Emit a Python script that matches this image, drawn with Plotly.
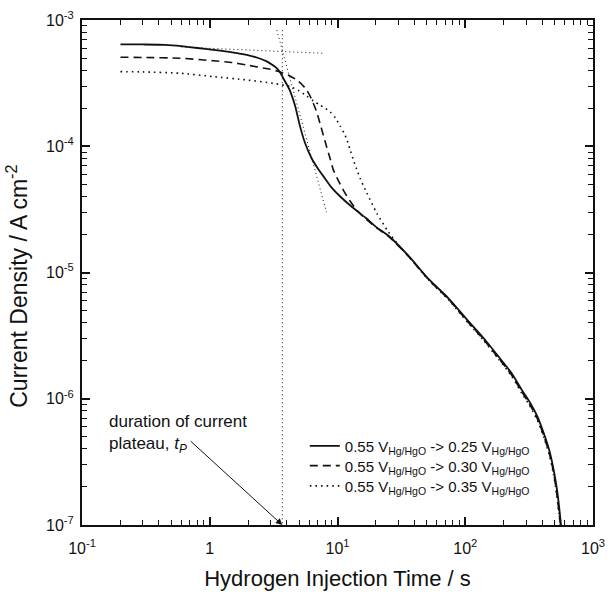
import math
import plotly.graph_objects as go

# ---------------- data ----------------
t_025 = [0.2, 0.3, 0.45, 0.6, 0.8, 1.07, 1.5, 1.95, 2.4, 2.79, 3.1, 3.34, 3.55, 3.77, 4.0,
         4.25, 4.65, 5.08, 5.57, 6.28, 7.0, 7.74, 9.0, 10.5, 13, 16.7, 20, 25.6, 36.3, 51.5,
         73.3, 104, 140, 182, 230, 278, 320, 368, 410, 455, 490, 523, 545, 562]
j_025 = [6.42e-4, 6.40e-4, 6.35e-4, 6.2e-4, 6.0e-4, 5.8e-4, 5.55e-4, 5.3e-4, 5.0e-4, 4.7e-4,
         4.4e-4, 4.15e-4, 3.85e-4, 3.45e-4, 3.1e-4, 2.75e-4, 2.1e-4, 1.45e-4, 1.06e-4, 8.0e-5,
         6.7e-5, 5.8e-5, 4.7e-5, 4.0e-5, 3.3e-5, 2.7e-5, 2.3e-5, 1.92e-5, 1.34e-5, 8.9e-6,
         6.3e-6, 4.2e-6, 3.0e-6, 2.16e-6, 1.6e-6, 1.17e-6, 9.4e-7, 7.2e-7, 5.4e-7, 3.9e-7,
         2.8e-7, 1.9e-7, 1.35e-7, 1.0e-7]

t_030 = [0.2, 0.3, 0.585, 1.07, 1.5, 1.95, 2.5, 2.97, 3.4, 3.77, 4.25, 4.79, 5.25, 5.73, 6.1,
         6.46, 6.9, 7.29, 7.75, 8.22, 8.75, 9.28, 10.2, 11.1, 12.5, 14.1, 16, 20, 25.6, 36.3,
         51.5, 73.3, 104, 140, 182, 230, 278, 320, 368, 410, 455, 490, 520, 540, 556]
j_030 = [5.07e-4, 5.05e-4, 4.98e-4, 4.75e-4, 4.6e-4, 4.4e-4, 4.2e-4, 4.07e-4, 3.93e-4, 3.79e-4,
         3.6e-4, 3.35e-4, 3.1e-4, 2.79e-4, 2.5e-4, 2.19e-4, 1.85e-4, 1.52e-4, 1.22e-4, 9.9e-5,
         8.0e-5, 6.5e-5, 5.3e-5, 4.5e-5, 3.7e-5, 3.13e-5, 2.75e-5, 2.28e-5, 1.9e-5, 1.33e-5,
         8.8e-6, 6.2e-6, 4.1e-6, 2.92e-6, 2.1e-6, 1.55e-6, 1.13e-6, 9.0e-7, 6.9e-7, 5.15e-7,
         3.7e-7, 2.65e-7, 1.8e-7, 1.3e-7, 1.0e-7]

t_035 = [0.2, 0.3, 0.585, 1.07, 1.95, 3.15, 4.25, 5.0, 5.73, 6.5, 7.29, 8.0, 8.73, 9.6, 10.5,
         11.2, 11.8, 12.5, 13.3, 14.1, 15, 16.9, 20.3, 25, 30.8, 36.3, 51.5, 73.3, 104, 140,
         182, 230, 278, 320, 368, 410, 455, 490, 520, 540, 555]
j_035 = [3.9e-4, 3.88e-4, 3.79e-4, 3.56e-4, 3.35e-4, 3.15e-4, 2.97e-4, 2.75e-4, 2.5e-4, 2.28e-4,
         2.12e-4, 2.0e-4, 1.88e-4, 1.68e-4, 1.45e-4, 1.28e-4, 1.14e-4, 9.5e-5, 7.8e-5, 6.6e-5,
         5.6e-5, 4.3e-5, 2.95e-5, 2.1e-5, 1.6e-5, 1.33e-5, 8.75e-6, 6.15e-6, 4.05e-6, 2.88e-6,
         2.06e-6, 1.52e-6, 1.1e-6, 8.8e-7, 6.7e-7, 5.0e-7, 3.6e-7, 2.55e-7, 1.75e-7, 1.27e-7,
         1.0e-7]

# construction lines used to find the plateau duration t_P
plateau_t = [0.6, 7.8]
plateau_j = [6.1e-4, 5.45e-4]
drop_t = [3.35, 8.2]
drop_j = [8.3e-4, 3.0e-5]
tp_value = 3.7
tp_j = [8.3e-4, 1e-7]
arrow_tail_t = 0.69
arrow_tail_j = 4.73e-7

series_names = [
    "0.55 V<sub>Hg/HgO</sub> -&gt; 0.25 V<sub>Hg/HgO</sub>",
    "0.55 V<sub>Hg/HgO</sub> -&gt; 0.30 V<sub>Hg/HgO</sub>",
    "0.55 V<sub>Hg/HgO</sub> -&gt; 0.35 V<sub>Hg/HgO</sub>",
]

x_tickvals = [0.1, 1, 10, 100, 1000]
x_ticktext = ["10<sup>-1</sup>", "1", "10<sup>1</sup>", "10<sup>2</sup>", "10<sup>3</sup>"]
y_tickvals = [1e-7, 1e-6, 1e-5, 1e-4, 1e-3]
y_ticktext = ["10<sup>-7</sup>", "10<sup>-6</sup>", "10<sup>-5</sup>", "10<sup>-4</sup>", "10<sup>-3</sup>"]

FONT = "Liberation Sans, Arial, Helvetica, sans-serif"
BLACK = "#111111"

fig = go.Figure()

# construction lines (not in legend)
for xs, ys in [(plateau_t, plateau_j), (drop_t, drop_j), ([tp_value, tp_value], tp_j)]:
    fig.add_trace(go.Scatter(x=xs, y=ys, mode="lines", showlegend=False, hoverinfo="skip",
                             line=dict(color=BLACK, width=1, dash="1px,3px")))

fig.add_trace(go.Scatter(x=t_025, y=j_025, mode="lines", name=series_names[0], legend="legend",
                         line=dict(color=BLACK, width=1.8, shape="spline", smoothing=0.6)))
fig.add_trace(go.Scatter(x=t_030, y=j_030, mode="lines", name=series_names[1], legend="legend2",
                         line=dict(color=BLACK, width=1.6, dash="8px,5px", shape="spline", smoothing=0.6)))
fig.add_trace(go.Scatter(x=t_035, y=j_035, mode="lines", name=series_names[2], legend="legend3",
                         line=dict(color=BLACK, width=1.6, dash="1.6px,4px", shape="spline", smoothing=0.6)))

fig.add_annotation(x=math.log10(tp_value), y=math.log10(tp_j[1]),
                   ax=math.log10(arrow_tail_t), ay=math.log10(arrow_tail_j),
                   xref="x", yref="y", axref="x", ayref="y", text="", showarrow=True,
                   arrowhead=2, arrowsize=1.3, arrowwidth=1, arrowcolor=BLACK)
fig.add_annotation(x=0.048, y=0.181, xref="paper", yref="paper", xanchor="left", yanchor="middle",
                   align="left", showarrow=False,
                   text="duration of current<br>plateau, <i>t<sub>P</sub></i>",
                   font=dict(family=FONT, size=17, color=BLACK))
# y-axis title (placed as rotated text to match the reference position)
fig.add_annotation(x=-0.127, y=0.472, xref="paper", yref="paper", xanchor="center", yanchor="middle",
                   textangle=-90, showarrow=False,
                   text="Current Density / A cm<sup>-2</sup>",
                   font=dict(family=FONT, size=23, color=BLACK))

axis_common = dict(
    type="log", showline=True, linewidth=2, linecolor=BLACK, mirror="ticks",
    ticks="inside", ticklen=8, tickwidth=1.5, tickcolor=BLACK, showgrid=False, zeroline=False,
    tickfont=dict(family=FONT, size=16, color=BLACK), automargin=False,
    minor=dict(ticks="inside", ticklen=5, tickwidth=1.2, tickcolor=BLACK, showgrid=False),
)

minor_x = [m * 10 ** e for e in range(-1, 3) for m in range(2, 10)]
minor_y = [m * 10 ** e for e in range(-7, -3) for m in range(2, 10)]

fig.update_xaxes(**axis_common, range=[-1, 3], tickmode="array", tickvals=x_tickvals,
                 ticktext=x_ticktext, ticklabelstandoff=8,
                 title=dict(text="Hydrogen Injection Time / s", standoff=14,
                            font=dict(family=FONT, size=22, color=BLACK)))
fig.update_xaxes(minor_tickmode="array", minor_tickvals=minor_x)
fig.update_yaxes(**axis_common, range=[-7, -3], tickmode="array", tickvals=y_tickvals,
                 ticktext=y_ticktext, ticklabelstandoff=3)
fig.update_yaxes(minor_tickmode="array", minor_tickvals=minor_y)

legend_common = dict(xanchor="left", yanchor="middle", bgcolor="rgba(0,0,0,0)", borderwidth=0,
                     font=dict(family=FONT, size=15, color=BLACK), itemwidth=30)
fig.update_layout(
    width=610, height=592,
    margin=dict(l=82, r=17, t=20, b=67, pad=0, autoexpand=False),
    paper_bgcolor="white", plot_bgcolor="white",
    font=dict(family=FONT, color=BLACK),
    showlegend=True,
    legend=dict(x=0.436, y=0.156, **legend_common),
    legend2=dict(x=0.436, y=0.117, **legend_common),
    legend3=dict(x=0.436, y=0.077, **legend_common),
)

fig.write_html("out.html", config={"displayModeBar": False},
               post_script="document.body.style.margin='0';document.body.style.overflow='hidden';")
